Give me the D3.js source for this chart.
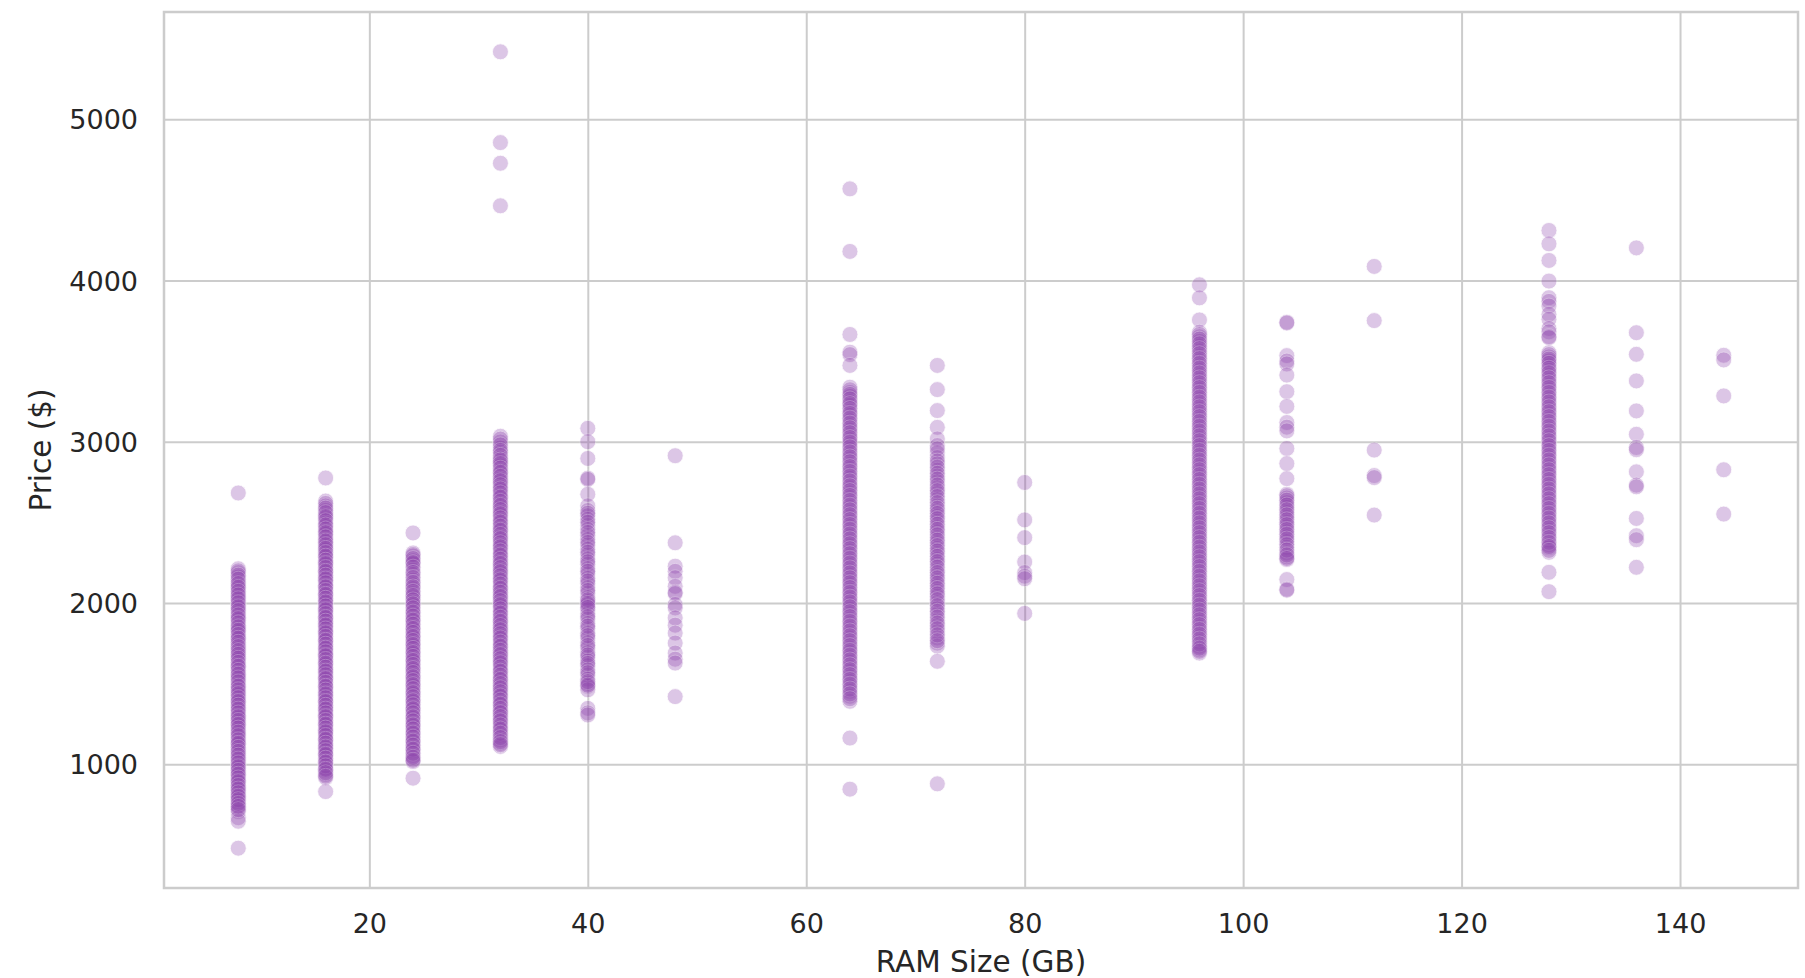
<!DOCTYPE html>
<html>
<head>
<meta charset="utf-8">
<script src="https://cdn.jsdelivr.net/npm/d3@7"></script>
<style>
  body { margin: 0; background: #fff; }
  text { font-family: "DejaVu Sans", sans-serif; }
</style>
</head>
<body>
<svg id="scatter"></svg>
<script>

// RAM sizes (x) and the prices read for each one (y)
var ramSizes = [8, 16, 24, 32, 40, 48, 64, 72, 80, 96, 104, 112, 128, 136, 144]

var price8 = [2682, 2212, 2188, 2161, 2131, 2108, 2087, 2061, 2038, 2015, 1986, 1966, 1938, 1912, 1893, 1861, 1840, 1821, 1790, 1772, 1741, 1716, 1693, 1668, 1646, 1615, 1598, 1566, 1547, 1524, 1493, 1476, 1448, 1427, 1398, 1381, 1352, 1333, 1302, 1285, 1258, 1239, 1211, 1188, 1166, 1137, 1121, 1090, 1068, 1043, 1022, 993, 975, 947, 929, 901, 884, 855, 838, 810, 793, 771, 748, 731, 706, 668, 646, 479,
              2199, 2172, 2147, 2120, 2097, 2072, 2049, 2026, 2001, 1976, 1952, 1925, 1902, 1876, 1851, 1830, 1804, 1781, 1756, 1729, 1704, 1681, 1657, 1631, 1607, 1582, 1558, 1535, 1510, 1484, 1461, 1437, 1412, 1389, 1366, 1342, 1318, 1294, 1271, 1247, 1224, 1199, 1177, 1151, 1129, 1104, 1079, 1056, 1032, 1008, 984, 961, 938, 915, 892, 868, 846, 823, 801, 780, 757, 738, 718]
var price16 = [2775, 2632, 2601, 2574, 2545, 2526, 2494, 2473, 2444, 2426, 2393, 2375, 2348, 2328, 2299, 2283, 2252, 2236, 2205, 2188, 2157, 2141, 2108, 2094, 2061, 2045, 2015, 1998, 1966, 1951, 1918, 1903, 1871, 1856, 1824, 1808, 1776, 1761, 1728, 1714, 1680, 1667, 1635, 1617, 1588, 1571, 1540, 1524, 1491, 1477, 1446, 1428, 1398, 1382, 1350, 1335, 1303, 1288, 1256, 1241, 1210, 1193, 1161, 1147, 1116, 1099, 1068, 1054, 1021, 1006, 976, 960, 936, 916, 830,
               2617, 2588, 2560, 2535, 2510, 2483, 2458, 2435, 2409, 2384, 2361, 2338, 2312, 2290, 2265, 2244, 2220, 2196, 2172, 2149, 2125, 2100, 2077, 2053, 2029, 2006, 1981, 1958, 1934, 1910, 1887, 1863, 1839, 1815, 1792, 1768, 1744, 1720, 1697, 1673, 1649, 1626, 1601, 1578, 1555, 1531, 1507, 1483, 1460, 1436, 1412, 1389, 1365, 1342, 1318, 1295, 1271, 1248, 1224, 1201, 1178, 1154, 1130, 1107, 1084, 1061, 1037, 1013, 990, 968, 947, 925]
var price24 = [2434, 2310, 2291, 2262, 2243, 2204, 2176, 2141, 2113, 2088, 2057, 2035, 2004, 1985, 1954, 1933, 1902, 1884, 1852, 1833, 1801, 1783, 1752, 1733, 1702, 1683, 1652, 1634, 1602, 1583, 1552, 1533, 1503, 1484, 1452, 1433, 1403, 1384, 1352, 1334, 1302, 1284, 1252, 1234, 1203, 1184, 1152, 1134, 1103, 1084, 1053, 1033, 1016, 913,
               2300, 2275, 2250, 2222, 2189, 2158, 2127, 2099, 2072, 2046, 2019, 1994, 1969, 1943, 1918, 1893, 1868, 1842, 1817, 1792, 1767, 1742, 1718, 1692, 1668, 1643, 1618, 1593, 1568, 1542, 1518, 1493, 1468, 1443, 1418, 1393, 1368, 1343, 1318, 1293, 1268, 1243, 1218, 1193, 1168, 1143, 1118, 1093, 1068, 1043, 1024]
var price32 = [5418, 4855, 4727, 4463, 3034, 2998, 2961, 2934, 2898, 2877, 2852, 2820, 2801, 2769, 2749, 2718, 2698, 2667, 2647, 2615, 2595, 2564, 2544, 2512, 2493, 2461, 2442, 2410, 2390, 2358, 2339, 2307, 2288, 2256, 2236, 2205, 2185, 2153, 2134, 2102, 2083, 2051, 2031, 1999, 1980, 1948, 1929, 1897, 1877, 1846, 1826, 1794, 1775, 1743, 1724, 1692, 1672, 1641, 1621, 1589, 1570, 1538, 1519, 1487, 1467, 1436, 1416, 1384, 1365, 1333, 1314, 1282, 1262, 1231, 1210, 1181, 1151, 1130, 1110,
               3016, 2980, 2946, 2915, 2887, 2864, 2836, 2810, 2785, 2758, 2733, 2707, 2682, 2656, 2630, 2605, 2579, 2553, 2527, 2502, 2476, 2451, 2425, 2399, 2373, 2348, 2322, 2297, 2271, 2245, 2219, 2194, 2168, 2143, 2117, 2091, 2066, 2040, 2014, 1989, 1963, 1937, 1911, 1886, 1860, 1834, 1809, 1783, 1757, 1732, 1706, 1680, 1654, 1629, 1603, 1577, 1552, 1526, 1500, 1474, 1449, 1423, 1397, 1372, 1346, 1320, 1295, 1269, 1243, 1218, 1192, 1165, 1140, 1121]
var price40 = [3083, 3000, 2896, 2774, 2766, 2674, 2602, 2573, 2541, 2518, 2481, 2455, 2418, 2393, 2359, 2333, 2298, 2272, 2240, 2212, 2180, 2153, 2120, 2094, 2061, 2033, 2008, 1988, 1958, 1932, 1901, 1872, 1841, 1812, 1782, 1753, 1721, 1692, 1664, 1640, 1611, 1584, 1553, 1527, 1501, 1482, 1461, 1346, 1318, 1305,
               2556, 2500, 2437, 2375, 2314, 2255, 2196, 2136, 2077, 2019, 1997, 1972, 1915, 1856, 1797, 1736, 1677, 1625, 1567, 1512, 1490]
var price48 = [2913, 2373, 2228, 2196, 2156, 2103, 2066, 2058, 1990, 1969, 1907, 1862, 1813, 1751, 1689, 1651, 1627, 1419]
var price64 = [4568, 4180, 3665, 3555, 3540, 3473, 3338, 3306, 3281, 3249, 3224, 3189, 3163, 3131, 3100, 3072, 3041, 3012, 2983, 2952, 2921, 2893, 2860, 2833, 2801, 2773, 2741, 2713, 2682, 2653, 2621, 2593, 2561, 2533, 2502, 2473, 2441, 2413, 2381, 2353, 2322, 2292, 2261, 2232, 2201, 2172, 2141, 2112, 2080, 2052, 2021, 1992, 1961, 1932, 1900, 1872, 1841, 1811, 1782, 1751, 1720, 1693, 1661, 1632, 1601, 1573, 1541, 1512, 1481, 1452, 1421, 1390, 1162, 845,
               3322, 3293, 3265, 3236, 3206, 3176, 3146, 3115, 3086, 3056, 3026, 2997, 2967, 2936, 2906, 2876, 2846, 2816, 2786, 2756, 2726, 2697, 2667, 2636, 2606, 2577, 2547, 2517, 2487, 2457, 2427, 2397, 2367, 2337, 2306, 2277, 2247, 2217, 2186, 2156, 2126, 2096, 2066, 2036, 2006, 1976, 1946, 1916, 1886, 1856, 1826, 1796, 1766, 1736, 1706, 1676, 1646, 1616, 1586, 1556, 1526, 1496, 1466, 1436, 1406]
var price72 = [3473, 3323, 3193, 3089, 3017, 2976, 2931, 2901, 2862, 2823, 2786, 2751, 2713, 2681, 2642, 2603, 2571, 2538, 2506, 2471, 2441, 2404, 2373, 2338, 2306, 2272, 2241, 2203, 2172, 2138, 2106, 2071, 2041, 2001, 1966, 1931, 1892, 1859, 1821, 1783, 1751, 1732, 1638, 878,
               2955, 2880, 2842, 2804, 2768, 2731, 2696, 2660, 2622, 2587, 2555, 2522, 2488, 2456, 2422, 2389, 2355, 2322, 2289, 2256, 2222, 2188, 2155, 2122, 2089, 2056, 2020, 1983, 1948, 1912, 1875, 1840, 1802, 1766]
var price80 = [2747, 2515, 2405, 2254, 2188, 2166, 2150, 1935]
var price96 = [3973, 3892, 3755, 3679, 3651, 3622, 3593, 3562, 3531, 3502, 3471, 3442, 3411, 3382, 3351, 3322, 3291, 3262, 3231, 3202, 3171, 3141, 3111, 3081, 3051, 3021, 2991, 2961, 2931, 2901, 2871, 2841, 2811, 2781, 2751, 2721, 2691, 2661, 2631, 2601, 2571, 2541, 2511, 2481, 2451, 2421, 2391, 2361, 2331, 2301, 2271, 2241, 2211, 2181, 2151, 2121, 2091, 2061, 2031, 2001, 1971, 1941, 1911, 1881, 1851, 1821, 1791, 1761, 1731, 1710, 1689,
               3665, 3636, 3607, 3577, 3546, 3516, 3486, 3456, 3426, 3396, 3366, 3336, 3306, 3276, 3246, 3216, 3186, 3156, 3126, 3096, 3066, 3036, 3006, 2976, 2946, 2916, 2886, 2856, 2826, 2796, 2766, 2736, 2706, 2676, 2646, 2616, 2586, 2556, 2526, 2496, 2466, 2436, 2406, 2376, 2346, 2316, 2286, 2256, 2226, 2196, 2166, 2136, 2106, 2076, 2046, 2016, 1986, 1956, 1926, 1896, 1866, 1836, 1806, 1776, 1746, 1720, 1700]
var price104 = [3741, 3736, 3534, 3500, 3482, 3413, 3310, 3219, 3119, 3090, 3067, 2958, 2864, 2771, 2674, 2651, 2622, 2592, 2561, 2531, 2500, 2471, 2441, 2410, 2381, 2345, 2310, 2286, 2269, 2145, 2085, 2079,
                2665, 2637, 2607, 2577, 2546, 2516, 2486, 2456, 2426, 2396, 2362, 2328, 2298, 2276]
var price112 = [4087, 3751, 2948, 2790, 2777, 2545]
var price128 = [4310, 4227, 4124, 3996, 3893, 3870, 3841, 3790, 3759, 3702, 3681, 3652, 3645, 3552, 3526, 3501, 3471, 3441, 3412, 3381, 3351, 3322, 3291, 3261, 3231, 3201, 3172, 3141, 3111, 3081, 3051, 3021, 2991, 2961, 2931, 2901, 2871, 2841, 2811, 2781, 2751, 2721, 2691, 2661, 2631, 2601, 2571, 2541, 2511, 2481, 2451, 2421, 2391, 2361, 2342, 2314, 2190, 2070,
                3540, 3512, 3486, 3456, 3427, 3396, 3366, 3337, 3306, 3276, 3246, 3216, 3186, 3156, 3126, 3096, 3066, 3036, 3006, 2976, 2946, 2916, 2886, 2856, 2826, 2796, 2766, 2736, 2706, 2676, 2646, 2616, 2586, 2556, 2526, 2496, 2466, 2436, 2406, 2376, 2350, 2326]
var price136 = [4202, 3676, 3542, 3377, 3191, 3046, 2964, 2950, 2813, 2731, 2720, 2524, 2417, 2392, 2221]
var price144 = [3536, 3507, 3284, 2826, 2551]

var pricesByRam = [price8, price16, price24, price32, price40, price48, price64, price72,
                   price80, price96, price104, price112, price128, price136, price144]

var xTicks = [20, 40, 60, 80, 100, 120, 140]
var yTicks = [1000, 2000, 3000, 4000, 5000]

var dataset = []
ramSizes.forEach((ram, i) => {
    pricesByRam[i].forEach(p => dataset.push({ram: ram, price: p}))
})

var dimensions = {
    width: 1805,
    height: 978,
    margin: {
        top: 12,
        bottom: 90,
        right: 7,
        left: 164
    }
}

var svg = d3.select("#scatter")
            .attr("width", dimensions.width)
            .attr("height", dimensions.height)

// 5% padding on each side like matplotlib does
var pad = (lo, hi) => [lo - (hi - lo) * 0.05, hi + (hi - lo) * 0.05]
var xExt = d3.extent(dataset, d => d.ram)
var yExt = d3.extent(dataset, d => d.price)

var xScale = d3.scaleLinear()
               .domain(pad(xExt[0], xExt[1]))
               .range([dimensions.margin.left, dimensions.width - dimensions.margin.right])

var yScale = d3.scaleLinear()
               .domain(pad(yExt[0], yExt[1]))
               .range([dimensions.height - dimensions.margin.bottom, dimensions.margin.top])

var innerW = dimensions.width - dimensions.margin.left - dimensions.margin.right
var innerH = dimensions.height - dimensions.margin.top - dimensions.margin.bottom

//grid lines
var xGrid = svg.append("g")
               .attr("transform", `translate(0,${dimensions.height - dimensions.margin.bottom})`)
               .call(d3.axisBottom(xScale).tickValues(xTicks).tickSize(-innerH).tickFormat(""))
var yGrid = svg.append("g")
               .attr("transform", `translate(${dimensions.margin.left},0)`)
               .call(d3.axisLeft(yScale).tickValues(yTicks).tickSize(-innerW).tickFormat(""))

svg.selectAll(".domain").remove()
svg.selectAll(".tick line")
   .attr("stroke", "#cccccc")
   .attr("stroke-width", 2)

// points
svg.append("g")
   .selectAll("circle")
   .data(dataset)
   .enter()
   .append("circle")
   .attr("cx", d => xScale(d.ram))
   .attr("cy", d => yScale(d.price))
   .attr("r", 8)
   .attr("fill", "#8e44ad")
   .attr("stroke", "#ffffff")
   .attr("stroke-width", 0.8)
   .attr("opacity", 0.3)

// frame
svg.append("rect")
   .attr("x", dimensions.margin.left)
   .attr("y", dimensions.margin.top)
   .attr("width", innerW)
   .attr("height", innerH)
   .attr("fill", "none")
   .attr("stroke", "#cccccc")
   .attr("stroke-width", 2.5)

// tick labels
var xAxis = svg.append("g")
               .attr("transform", `translate(0,${dimensions.height - dimensions.margin.bottom})`)
               .call(d3.axisBottom(xScale).tickValues(xTicks).tickSize(0).tickPadding(26))
var yAxis = svg.append("g")
               .attr("transform", `translate(${dimensions.margin.left},0)`)
               .call(d3.axisLeft(yScale).tickValues(yTicks).tickFormat(d3.format("d")).tickSize(0).tickPadding(26))

xAxis.select(".domain").remove()
yAxis.select(".domain").remove()
svg.selectAll(".tick text")
   .attr("fill", "#262626")
   .style("font-size", "27px")
   .style("font-family", "DejaVu Sans")
yAxis.selectAll("text").attr("dy", "0.36em")

// axis titles
svg.append("text")
   .attr("x", (dimensions.margin.left + dimensions.width - dimensions.margin.right) / 2)
   .attr("y", 972)
   .attr("text-anchor", "middle")
   .attr("fill", "#262626")
   .style("font-size", "29.5px")
   .text("RAM Size (GB)")

svg.append("text")
   .attr("transform", `translate(51,${dimensions.margin.top + innerH / 2}) rotate(-90)`)
   .attr("text-anchor", "middle")
   .attr("fill", "#262626")
   .style("font-size", "29.5px")
   .text("Price ($)")

</script>
</body>
</html>
